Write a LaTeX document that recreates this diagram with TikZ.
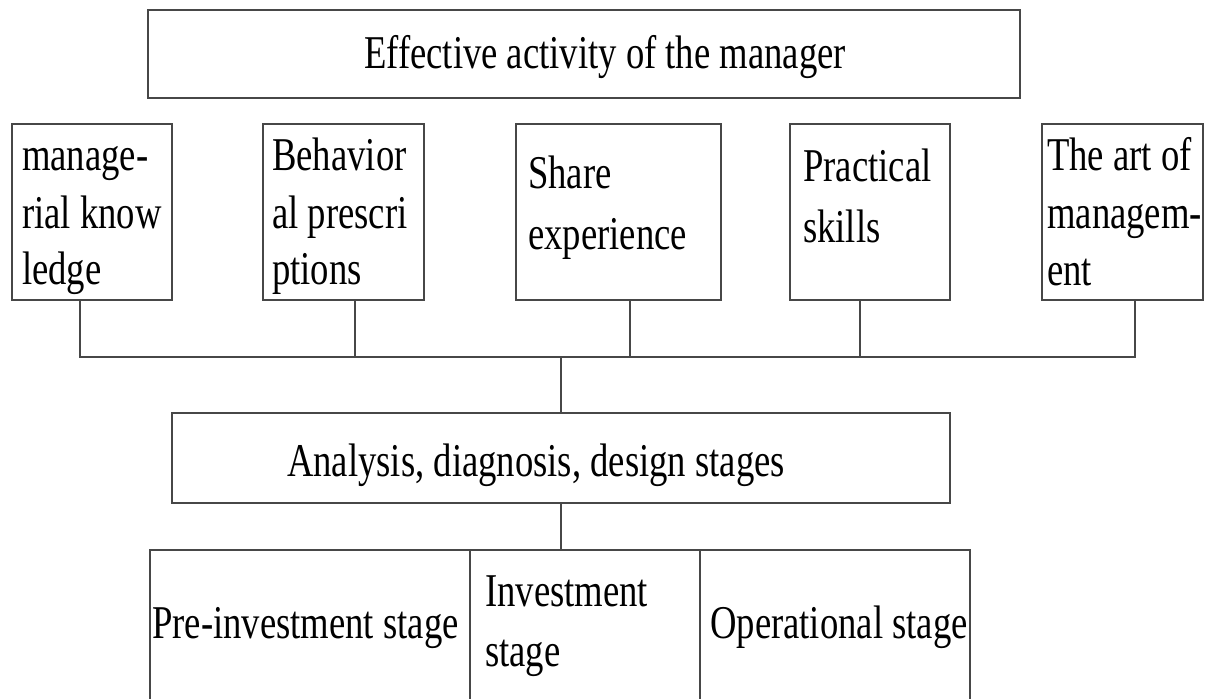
\documentclass[tikz,border=0pt]{standalone}
\usepackage{fontspec}
\setmainfont[FakeStretch=0.78]{Liberation Serif}
\begin{document}
\begin{tikzpicture}[x=1pt,y=-1pt,
  box/.style={draw=black!72, line width=2.2pt, inner sep=0pt, rectangle},
  conn/.style={draw=black!72, line width=2.2pt},
  txt/.style={font=\fontsize{47}{56}\selectfont, inner sep=0pt, anchor=base west},
  ctxt/.style={font=\fontsize{47}{56}\selectfont, inner sep=0pt, anchor=base}]
\useasboundingbox (0,0) rectangle (1208,699);
% boxes
\node[box, minimum width=872pt, minimum height=88pt] (top) at (584,54) {};
\node[box, minimum width=160pt, minimum height=176pt] (b1) at (92,212) {};
\node[box, minimum width=161pt, minimum height=176pt] (b2) at (343.5,212) {};
\node[box, minimum width=205pt, minimum height=176pt] (b3) at (618.5,212) {};
\node[box, minimum width=160pt, minimum height=176pt] (b4) at (870,212) {};
\node[box, minimum width=161pt, minimum height=176pt] (b5) at (1122.5,212) {};
\node[box, minimum width=778pt, minimum height=90pt] (mid) at (561,458) {};
\node[box, minimum width=320pt, minimum height=190pt] (s1) at (310,645) {};
\node[box, minimum width=230pt, minimum height=190pt] (s2) at (585,645) {};
\node[box, minimum width=270pt, minimum height=190pt] (s3) at (835,645) {};
% texts
\node[ctxt] (ttop) at (605,68) {Effective activity of the manager};
\node[txt] (t11) at (22,170) {manage-};
\node[txt] (t12) at (22,228) {rial know};
\node[txt] (t13) at (22,284) {ledge};
\node[txt] (t21) at (272,170) {Behavior};
\node[txt] (t22) at (272,228) {al prescri};
\node[txt] (t23) at (272,284) {ptions};
\node[txt] (t31) at (528,188) {Share};
\node[txt] (t32) at (528,249) {experience};
\node[txt] (t41) at (803,181) {Practical};
\node[txt] (t42) at (803,242) {skills};
\node[txt] (t51) at (1047,170) {The art of};
\node[txt] (t52) at (1047,228) {managem-};
\node[txt] (t53) at (1047,285) {ent};
\node[ctxt] (tmid) at (536,476) {Analysis, diagnosis, design stages};
\node[txt] (ts1) at (152,638) {Pre-investment stage};
\node[txt] (ts21) at (485,606) {Investment};
\node[txt] (ts22) at (485,666) {stage};
\node[txt] (ts3) at (710,638) {Operational stage};
% connectors
\coordinate (k1) at (80,357);
\coordinate (k2) at (355,357);
\coordinate (k3) at (630,357);
\coordinate (k4) at (860,357);
\coordinate (k5) at (1135,357);
\coordinate (bus) at (561,357);
\draw[conn] (k1 |- b1.south) -- (k1) -- (k5) -- (k5 |- b5.south);
\draw[conn] (k2 |- b2.south) -- (k2);
\draw[conn] (k3 |- b3.south) -- (k3);
\draw[conn] (k4 |- b4.south) -- (k4);
\draw[conn] (bus) -- (bus |- mid.north);
\draw[conn] (mid.south) -- (mid.south |- s1.north);
\end{tikzpicture}
\end{document}
